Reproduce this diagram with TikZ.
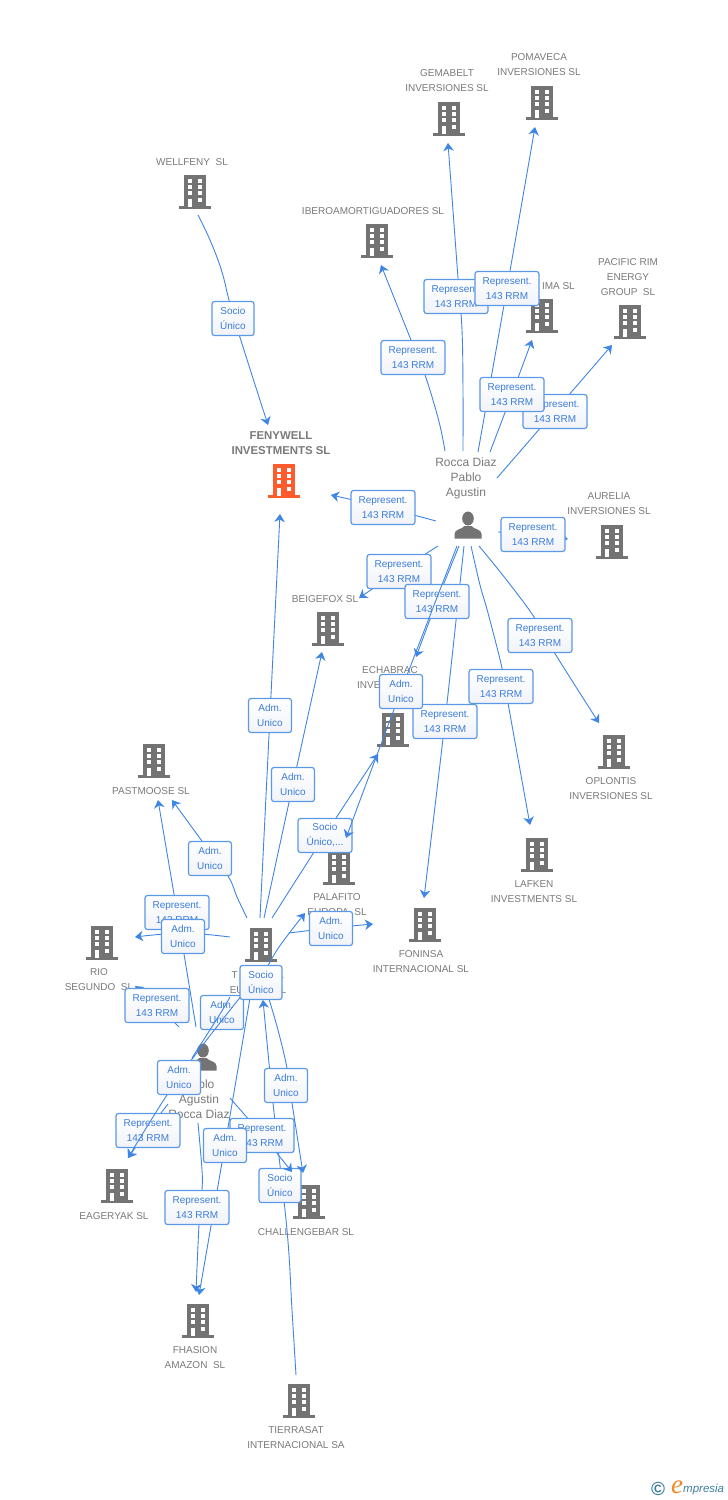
\documentclass[tikz,border=0pt]{standalone}
\usepackage{fontspec}
\setmainfont{Liberation Sans}
\newfontfamily\logoserif{Liberation Serif}
\usetikzlibrary{arrows.meta}
\definecolor{linec}{HTML}{3F86E4}
\definecolor{boxc}{HTML}{5C98E8}
\definecolor{boxtext}{HTML}{3A7CDC}
\definecolor{boxlow}{HTML}{F1F3F8}
\definecolor{graytxt}{HTML}{7A7A7A}
\definecolor{iconc}{HTML}{737373}
\definecolor{hotc}{HTML}{FF5A2C}
\definecolor{logoc}{HTML}{3E7FA0}
\definecolor{logoo}{HTML}{F08A24}
\tikzset{
  ent/.style={inner sep=0pt,minimum width=32pt,minimum height=34pt},
  lab/.style={text=graytxt,align=center,inner sep=0pt,yshift=-1pt,font=\fontsize{10}{15}\selectfont},
  plab/.style={text=graytxt,align=center,inner sep=0pt,yshift=-1pt,font=\fontsize{12}{15}\selectfont},
  conn/.style={draw=linec,line width=.9pt,-{Stealth[length=8pt,width=10.5pt,inset=2.5pt]}},
  connplain/.style={draw=linec,line width=.9pt},
  box/.style={draw=boxc,line width=1.2pt,rounded corners=2.5pt,top color=white,bottom color=boxlow,
     text=boxtext,align=center,inner sep=0pt,minimum height=34pt,yshift=-0.5pt,font=\fontsize{10}{15}\selectfont},
  rep/.style={box,minimum width=64pt},
  adm/.style={box,minimum width=43pt},
  soc/.style={box,minimum width=42pt},
  socw/.style={box,minimum width=54pt},
  bld/.pic={
    \fill[#1] (-11,-17) rectangle (11,15);
    \fill[#1] (-16,14) rectangle (16,17);
    \foreach \yy in {-13.5,-7,-0.7}{
      \fill[white] (-7.3,\yy) rectangle (-3,\yy+4);
      \fill[white] (2.7,\yy) rectangle (7,\yy+4);
    }
    \fill[white] (2.7,5.7) rectangle (7,9.7);
    \fill[white] (-7.3,7) rectangle (-3,14.5);
  },
  man/.pic={
    \fill[iconc] (0,-6.5) ellipse (5.8 and 7);
    \fill[iconc] (-13.5,13.5) -- (-13.5,9) .. controls (-13.5,4) and (-6,4.5) .. (-3.5,1) -- (3.5,1)
       .. controls (6,4.5) and (13.5,4) .. (13.5,9) -- (13.5,13.5) -- cycle;
  }
}
% line from a named node to a named node, through middle points
\newcommand\cxline[7][conn]{%
  \coordinate (#2s) at ([shift={#4}]#3.center);
  \coordinate (#2e) at ([shift={#7}]#6.center);
  \draw[#1] plot[smooth,tension=.6] coordinates {(#2s) #5 (#2e)};
}
\begin{document}
\begin{tikzpicture}[x=1pt,y=-1pt]
\useasboundingbox (0,0) rectangle (728,1500);
\fill[white] (0,0) rectangle (728,1500);

% entities
\foreach \nm/\xx/\yy in {wellfeny/195/192,gemabelt/449/119,pomaveca/542/103,ibero/377/241,ima/542/316,pacific/630/322,
  aurelia/612/542,beigefox/328/629,echabrac/393/730,oplontis/614/752,lafken/537/855,palafito/339/868,foninsa/425/925,
  pastmoose/154/761,rio/102/943,toro/261/945,eageryak/117/1186,challenge/309/1202,fhasion/198/1321,tierrasat/299/1401}{
  \node[ent] (\nm) at (\xx,\yy) {};
  \pic at (\nm) {bld=iconc};
}
\node[ent] (fenywell) at (284,481) {};
\pic at (fenywell) {bld=hotc};
\node[ent] (rocca) at (468,525) {};
\pic at (rocca) {man};
\node[ent] (pablo) at (203,1057) {};
\pic at (pablo) {man};

% entity labels
\node[lab] (t1) at (192,161) {WELLFENY\ \ SL};
\node[lab,font=\fontsize{11.4}{15}\selectfont\bfseries] (t2) at (281,442) {FENYWELL\\INVESTMENTS SL};
\node[lab] (t3) at (447,80) {GEMABELT\\INVERSIONES SL};
\node[lab] (t4) at (539,64) {POMAVECA\\INVERSIONES SL};
\node[lab] (t5) at (373,210) {IBEROAMORTIGUADORES SL};
\node[lab,anchor=east] (t6) at (575,285) {IMA SL};
\node[lab] (t7) at (628,276) {PACIFIC RIM\\ENERGY\\GROUP\ \ SL};
\node[lab] (t8) at (609,503) {AURELIA\\INVERSIONES SL};
\node[lab] (t9) at (325,598) {BEIGEFOX SL};
\node[lab] (t10) at (390,669) {ECHABRAC};
\node[lab,anchor=west] (t11) at (357,684) {INVE};
\node[lab] (t12) at (611,788) {OPLONTIS\\INVERSIONES SL};
\node[lab] (t13) at (534,891) {LAFKEN\\INVESTMENTS SL};
\node[lab] (t14) at (337,904) {PALAFITO\\EUROPA\ \ SL};
\node[lab] (t15) at (421,961) {FONINSA\\INTERNACIONAL SL};
\node[lab] (t16) at (151,790) {PASTMOOSE SL};
\node[lab] (t17) at (99,979) {RIO\\SEGUNDO\ \ SL};
\node[lab] (t18) at (258,982) {T\hspace{44pt}.\\EUROPA SL};
\node[lab] (t19) at (114,1215) {EAGERYAK SL};
\node[lab] (t20) at (306,1231) {CHALLENGEBAR SL};
\node[lab] (t21) at (195,1357) {FHASION\\AMAZON\ \ SL};
\node[lab] (t22) at (296,1437) {TIERRASAT\\INTERNACIONAL SA};
\node[plab] (t23) at (466,477) {Rocca Diaz\\Pablo\\Agustin};
\node[plab] (t24) at (199,1098) {Pablo\\Agustin\\Rocca Diaz};

% Rocca Diaz connectors
\cxline{e1}{rocca}{(-23,-74)}{(441,430)(435,407)(425,375)(413,345)}{ibero}{(4,24)}
\node[rep] (b1) at (413,357) {Represent.\\143 RRM};
\cxline{e2}{rocca}{(-5,-74)}{(463,390)(462,330)(458,278)}{gemabelt}{(-1,24)}
\node[rep] (b2) at (456,296) {Represent.\\143 RRM};
\cxline{e3}{rocca}{(10,-73)}{(507,288)}{pomaveca}{(-7,24)}
\node[rep] (b3) at (507,288) {Represent.\\143 RRM};
\cxline{e5}{rocca}{(29,-47)}{(555,411)}{pacific}{(-18,23)}
\node[rep] (b5) at (555,411) {Represent.\\143 RRM};
\cxline{e4}{rocca}{(22,-73)}{(512,394)}{ima}{(-10,24)}
\node[rep] (b4) at (512,394) {Represent.\\143 RRM};
\cxline{e6}{rocca}{(-32,-4)}{(383,507)}{fenywell}{(47,14)}
\node[rep] (b6) at (383,507) {Represent.\\143 RRM};
\cxline{e7}{rocca}{(30,7)}{(533,534)}{aurelia}{(-44,-3)}
\node[rep] (b7) at (533,534) {Represent.\\143 RRM};
\cxline{e8}{rocca}{(-30,21)}{(399,571)}{beigefox}{(31,-31)}
\node[rep] (b8) at (399,571) {Represent.\\143 RRM};
\cxline{e13}{rocca}{(11,21)}{(493,563)(512,587)(534,617)(554,652)}{oplontis}{(-15,-29)}
\node[rep] (b13) at (540,635) {Represent.\\143 RRM};
\cxline{e12}{rocca}{(3,21)}{(480,585)(488,613)(502,668)(508,703)}{lafken}{(-7,-30)}
\node[rep] (b12) at (501,686) {Represent.\\143 RRM};
\cxline{e11}{rocca}{(-4,21)}{(445,721)}{foninsa}{(-1,-27)}
\node[rep] (b11) at (445,721) {Represent.\\143 RRM};
\cxline{e9}{rocca}{(-9,21)}{(437,601)}{echabrac}{(23,-73)}
\node[rep] (b9) at (437,601) {Represent.\\143 RRM};

% Wellfeny
\cxline{e14}{wellfeny}{(3,23)}{(210,240)(222,272)(234,318)}{fenywell}{(-16,-56)}
\node[soc] (b14) at (233,318) {Socio\\Único};

% Toro connectors, upper part
\cxline{es}{toro}{(11,-27)}{(325,835)}{echabrac}{(-15,24)}
\node[socw] (bs) at (325,835) {Socio\\Único,...};
\cxline{e10}{rocca}{(-11,21)}{(401,691)}{palafito}{(7,-30)}
\node[adm] (b10) at (401,691) {Adm.\\Unico};
\cxline{e15}{toro}{(-1,-27)}{(270,715)}{fenywell}{(-4,33)}
\node[adm] (b15) at (270,715) {Adm.\\Unico};
\cxline{e16}{toro}{(3,-27)}{(293,784)}{beigefox}{(-6,23)}
\node[adm] (b16) at (293,784) {Adm.\\Unico};
\cxline{e17}{toro}{(-14,-27)}{(237,897)(228,876)(202,841)}{pastmoose}{(18,39)}
\node[adm] (b17) at (210,858) {Adm.\\Unico};
\cxline{e18}{pablo}{(-7,-30)}{(177,912)}{pastmoose}{(4,39)}
\node[rep] (b18) at (177,912) {Represent.\\143 RRM};
\cxline{e19}{toro}{(-31,-8)}{(183,933)}{rio}{(33,-6)}
\node[adm] (b19) at (183,936) {Adm.\\Unico};
\cxline{e20}{pablo}{(-24,-30)}{(157,1005)}{rio}{(33,43)}
\node[rep] (b20) at (157,1005) {Represent.\\143 RRM};

% Toro connectors, lower part
\node[adm] (b23) at (222,1012) {Adm.\\Unico};
\cxline[connplain]{e23}{toro}{(-31,52)}{(220,1014)}{pablo}{(-11,1)}
\cxline{e28}{tierrasat}{(-3,-26)}{(292,1310)(287,1230)(273,1103)}{toro}{(2,55)}
\node[soc] (b28) at (280,1185) {Socio\\Único};
\cxline{e30}{pablo}{(27,41)}{(262,1135)}{challenge}{(-17,-30)}
\node[rep] (b30) at (262,1135) {Represent.\\143 RRM};
\cxline{e29}{toro}{(8,54)}{(278,1030)(287,1068)(292,1103)}{challenge}{(-6,-29)}
\node[adm] (b29) at (286,1085) {Adm.\\Unico};
\cxline{e26}{toro}{(-11,53)}{(225,1145)}{fhasion}{(1,-26)}
\node[adm] (b26) at (225,1145) {Adm.\\Unico};
\cxline{e27}{pablo}{(-5,66)}{(202,1170)(202,1190)(199,1225)}{fhasion}{(-2,-29)}
\node[rep] (b27) at (197,1207) {Represent.\\143 RRM};
\cxline{e25}{pablo}{(-35,47)}{(148,1130)}{eageryak}{(11,-28)}
\node[rep] (b25) at (148,1130) {Represent.\\143 RRM};
\cxline{e24}{toro}{(-19,50)}{(179,1077)}{eageryak}{(11,-28)}
\node[adm] (b24) at (179,1077) {Adm.\\Unico};
\cxline{e21}{toro}{(0,35)}{(277,950)}{palafito}{(-34,45)}
\node[soc] (b21) at (261,982) {Socio\\Único};
\cxline{e22}{toro}{(28,-12)}{(331,928)}{foninsa}{(-52,-1)}
\node[adm] (b22) at (331,928) {Adm.\\Unico};

% logo
\node[text=logoc,inner sep=0pt,font=\fontsize{19}{19}\selectfont\bfseries] (logoa) at (658,1489) {©};
\node[text=logoo,inner sep=0pt,anchor=west,font=\logoserif\fontsize{27}{27}\selectfont\itshape] (logoe) at (671,1487) {e};
\node[text=logoc,inner sep=0pt,anchor=west,font=\fontsize{11.5}{14}\selectfont\itshape] (logob) at (683,1490) {mpresia};
\end{tikzpicture}
\end{document}
